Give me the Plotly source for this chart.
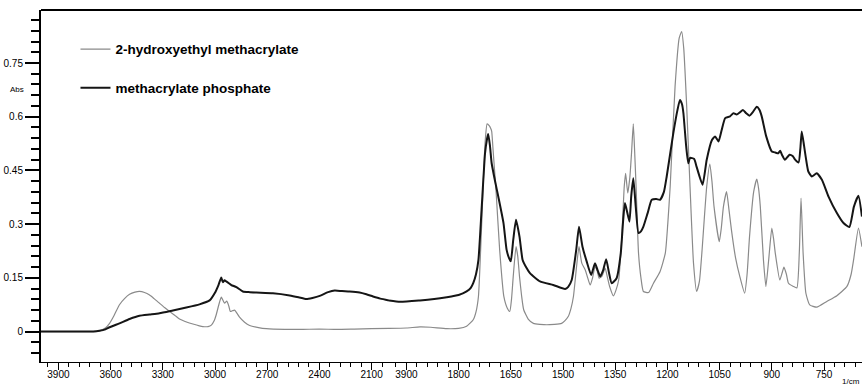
import plotly.graph_objects as go

# ---------------- data (wavenumber in 1/cm, absorbance) ----------------
wn_hema = [4000, 3800, 3700, 3664, 3630, 3606, 3580, 3549, 3520, 3491, 3460, 3434, 3405, 3376, 3350,
           3319, 3290, 3261, 3230, 3204, 3160, 3127, 3090, 3070, 3040, 3021, 3005, 2993, 2978, 2964,
           2955, 2945, 2932, 2920, 2912, 2900, 2887, 2872, 2859, 2830, 2801, 2750, 2705, 2600, 2500,
           2400, 2300, 2200, 2100, 2000,
           1950, 1911, 1880, 1834, 1800, 1777, 1758, 1750, 1743, 1734, 1724, 1718, 1712, 1708, 1705,
           1701, 1692, 1682, 1670, 1660, 1653, 1648, 1643, 1635, 1630, 1625, 1619, 1613, 1600, 1585,
           1547, 1504, 1495, 1485, 1477, 1470, 1461, 1454, 1446, 1436, 1429, 1422, 1415, 1408, 1402,
           1396, 1388, 1379, 1372, 1366, 1355, 1348, 1340, 1331, 1324, 1320, 1314, 1308, 1303, 1298,
           1294, 1290, 1283, 1276, 1269, 1254, 1240, 1221, 1206, 1199, 1192, 1178, 1166, 1159, 1153,
           1145, 1135, 1125, 1116, 1108, 1101, 1087, 1078, 1072, 1066, 1051, 1045, 1039, 1030, 1023,
           1016, 1004, 992, 978, 971, 964, 952, 943, 938, 933, 924, 917, 909, 900, 895,
           890, 877, 870, 865, 858, 852, 838, 828, 821, 816, 810, 802, 791, 771, 742,
           713, 684, 672, 665, 651, 641]
abs_hema = [0.0, 0.0, 0.0, 0.002, 0.01, 0.023, 0.045, 0.075, 0.092, 0.104, 0.110, 0.112, 0.109, 0.102, 0.092,
            0.079, 0.067, 0.056, 0.045, 0.035, 0.026, 0.021, 0.016, 0.014, 0.014, 0.018, 0.03, 0.047, 0.075, 0.096,
            0.088, 0.079, 0.085, 0.07, 0.056, 0.058, 0.06, 0.05, 0.040, 0.026, 0.017, 0.011, 0.008, 0.006, 0.006,
            0.007, 0.006, 0.007, 0.008, 0.009,
            0.010, 0.013, 0.012, 0.008, 0.009, 0.015, 0.033, 0.055, 0.098, 0.293, 0.526, 0.580, 0.575, 0.568, 0.56,
            0.508, 0.387, 0.228, 0.098, 0.065, 0.056, 0.09, 0.154, 0.237, 0.21, 0.154, 0.10, 0.061, 0.035, 0.023,
            0.019, 0.023, 0.03, 0.042, 0.065, 0.098, 0.182, 0.237, 0.191, 0.172, 0.15, 0.130, 0.15, 0.182, 0.17,
            0.149, 0.155, 0.177, 0.15, 0.126, 0.0997, 0.115, 0.144, 0.265, 0.405, 0.442, 0.387, 0.43, 0.5, 0.580,
            0.5, 0.405, 0.219, 0.15, 0.112, 0.109, 0.135, 0.168, 0.219, 0.3, 0.405, 0.684, 0.82, 0.838, 0.79,
            0.638, 0.405, 0.191, 0.112, 0.14, 0.219, 0.405, 0.468, 0.42, 0.349, 0.251, 0.29, 0.349, 0.391, 0.34,
            0.284, 0.205, 0.154, 0.107, 0.16, 0.265, 0.391, 0.426, 0.4, 0.349, 0.200, 0.126, 0.200, 0.289, 0.26,
            0.219, 0.144, 0.165, 0.180, 0.16, 0.135, 0.126, 0.122, 0.219, 0.373, 0.219, 0.107, 0.0746, 0.068, 0.084,
            0.1, 0.126, 0.16, 0.200, 0.289, 0.237]

wn_phos = [4000, 3800, 3700, 3664, 3630, 3606, 3549, 3491, 3434, 3376, 3319, 3242, 3165, 3089, 3031,
           3002, 2980, 2964, 2955, 2945, 2935, 2920, 2906, 2877, 2840, 2800, 2763, 2667, 2571, 2520,
           2475, 2440, 2398, 2350, 2312, 2270, 2226, 2169, 2130, 2092, 2050, 2000,
           1968, 1911, 1870, 1834, 1800, 1777, 1765, 1758, 1750, 1743, 1734, 1724, 1718, 1715, 1710,
           1705, 1695, 1686, 1671, 1662, 1655, 1650, 1643, 1635, 1625, 1616, 1605, 1595, 1566, 1528,
           1494, 1485, 1475, 1462, 1454, 1444, 1432, 1419, 1408, 1400, 1393, 1385, 1376, 1368, 1360,
           1346, 1334, 1327, 1322, 1315, 1309, 1304, 1298, 1291, 1283, 1276, 1269, 1257, 1245, 1232,
           1221, 1210, 1202, 1183, 1171, 1164, 1158, 1154, 1146, 1140, 1135, 1123, 1116, 1099, 1087,
           1072, 1063, 1053, 1044, 1034, 1020, 1010, 1001, 992, 983, 974, 964, 955, 943, 936,
           929, 916, 900, 890, 881, 876, 871, 862, 849, 840, 833, 823, 818, 814, 807,
           795, 785, 771, 756, 737, 713, 694, 677, 664, 651, 641]
abs_phos = [0.0, 0.0, 0.0, 0.002, 0.006, 0.012, 0.023, 0.035, 0.044, 0.0475, 0.051, 0.059, 0.067, 0.076, 0.087,
            0.107, 0.13, 0.151, 0.138, 0.143, 0.14, 0.135, 0.130, 0.124, 0.112, 0.110, 0.109, 0.107, 0.101, 0.096,
            0.091, 0.094, 0.0997, 0.11, 0.1145, 0.113, 0.112, 0.109, 0.104, 0.098, 0.092, 0.087,
            0.083, 0.087, 0.091, 0.096, 0.102, 0.112, 0.122, 0.135, 0.16, 0.200, 0.34, 0.498, 0.54, 0.552, 0.52,
            0.47, 0.419, 0.377, 0.303, 0.228, 0.205, 0.196, 0.256, 0.312, 0.265, 0.200, 0.178, 0.163, 0.140, 0.130,
            0.119, 0.125, 0.144, 0.228, 0.293, 0.237, 0.196, 0.158, 0.191, 0.17, 0.154, 0.17, 0.202, 0.165, 0.135,
            0.149, 0.219, 0.312, 0.359, 0.331, 0.307, 0.377, 0.428, 0.349, 0.275, 0.28, 0.293, 0.33, 0.368, 0.37,
            0.368, 0.39, 0.433, 0.554, 0.619, 0.647, 0.635, 0.610, 0.517, 0.470, 0.485, 0.482, 0.46, 0.410, 0.480,
            0.535, 0.545, 0.531, 0.563, 0.596, 0.601, 0.610, 0.606, 0.612, 0.619, 0.61, 0.603, 0.612, 0.628, 0.62,
            0.601, 0.545, 0.503, 0.50, 0.498, 0.505, 0.494, 0.480, 0.494, 0.49, 0.48, 0.472, 0.51, 0.559, 0.517,
            0.447, 0.433, 0.442, 0.424, 0.377, 0.331, 0.303, 0.292, 0.349, 0.379, 0.321]

left_ticks = [3900, 3600, 3300, 3000, 2700, 2400, 2100]
right_ticks = [1950, 1800, 1650, 1500, 1350, 1200, 1050, 900, 750]
right_tick_text = ["3900", "1800", "1650", "1500", "1350", "1200", "1050", "900", "750"]
y_ticks = [0, 0.15, 0.3, 0.45, 0.6, 0.75]

series = [
    ("2-hydroxyethyl methacrylate", wn_hema, abs_hema, "#8a8a8a", 1.2),
    ("methacrylate phosphate", wn_phos, abs_phos, "#151515", 2.0),
]

FONT = "Liberation Sans, Arial, sans-serif"
fig = go.Figure()
for name, wn, ab, col, lw in series:
    lx = [w for w in wn if w >= 2000]
    ly = [a for w, a in zip(wn, ab) if w >= 2000]
    rx = [w for w in wn if w <= 2000]
    ry = [a for w, a in zip(wn, ab) if w <= 2000]
    fig.add_trace(go.Scatter(x=lx, y=ly, xaxis="x", yaxis="y", mode="lines", name=name,
                             legendgroup=name, showlegend=True,
                             line=dict(color=col, width=lw, shape="spline", smoothing=0.5)))
    fig.add_trace(go.Scatter(x=rx, y=ry, xaxis="x2", yaxis="y", mode="lines", name=name,
                             legendgroup=name, showlegend=False,
                             line=dict(color=col, width=lw, shape="spline", smoothing=0.5)))

brk = (389 - 41) / 821.0
tickfont = dict(family=FONT, size=10, color="black")
common_x = dict(showgrid=False, zeroline=False, showline=True, linecolor="black", linewidth=1.2,
                ticks="outside", ticklen=7, tickwidth=1, tickcolor="black", tickfont=tickfont,
                anchor="y", ticklabelstandoff=-4)
fig.update_layout(
    width=862, height=386, autosize=False,
    margin=dict(l=41, r=0, t=10, b=24, pad=0),
    paper_bgcolor="white", plot_bgcolor="white",
    xaxis=dict(domain=[0, brk], range=[4000, 2000], tickmode="array", tickvals=left_ticks,
               minor=dict(tickmode="linear", tick0=3900, dtick=60, ticks="outside", ticklen=3.5,
                          tickwidth=1, tickcolor="black"),
               **common_x),
    xaxis2=dict(domain=[brk, 1], range=[2000, 640.8], tickmode="array", tickvals=right_ticks,
                ticktext=right_tick_text,
                minor=dict(tickmode="linear", tick0=1950, dtick=30, ticks="outside", ticklen=3.5,
                           tickwidth=1, tickcolor="black"),
                **common_x),
    yaxis=dict(range=[-0.085, 0.898], anchor="x", showgrid=False, zeroline=False,
               showline=True, linecolor="black", linewidth=2,
               ticks="outside", ticklen=14, tickwidth=1.5, tickcolor="black",
               tickmode="array", tickvals=y_ticks, tickfont=tickfont,
               minor=dict(tickmode="linear", tick0=0, dtick=0.03, ticks="outside", ticklen=8,
                          tickwidth=1.5, tickcolor="black")),
    legend=dict(x=0.042, y=0.932, xanchor="left", yanchor="top", bgcolor="rgba(0,0,0,0)",
                font=dict(family=FONT, size=13.5, color="black", weight="bold"),
                tracegroupgap=18, itemwidth=30),
    showlegend=True,
)
fig.add_shape(type="line", xref="paper", yref="paper", x0=0, x1=1, y0=1, y1=1,
              line=dict(color="black", width=2))
fig.add_annotation(text="Abs", xref="paper", yref="y", x=-0.0292, y=0.675, showarrow=False,
                   xanchor="center", yanchor="middle", font=dict(family=FONT, size=8, color="black"))
fig.add_annotation(text="1/cm", xref="paper", yref="paper", x=1.0, y=-0.054, showarrow=False,
                   xanchor="right", yanchor="middle", font=dict(family=FONT, size=8, color="black"))
fig.write_html("out.html")
